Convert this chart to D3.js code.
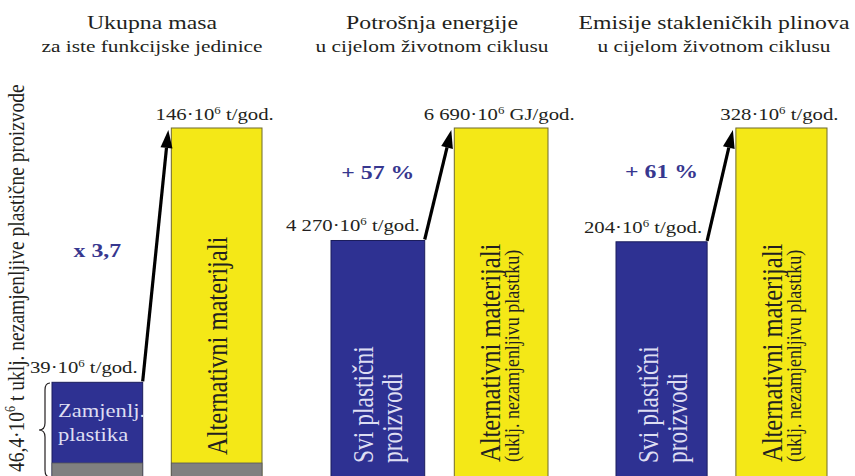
<!DOCTYPE html>
<html>
<head>
<meta charset="utf-8">
<script src="https://cdn.jsdelivr.net/npm/d3@7"></script>
<style>
  html, body { margin: 0; padding: 0; background: #fff; }
  svg { display: block; }
</style>
</head>
<body>
<svg id="chart" width="855" height="476"></svg>
<script>
// ---- data ----
const panelTitles = ["Ukupna masa", "Potrošnja energije", "Emisije stakleničkih plinova"];
const panelSubtitles = ["za iste funkcijske jedinice", "u cijelom životnom ciklusu", "u cijelom životnom ciklusu"];
const barCategories = ["plastika", "alternativa"];
const plasticValues = [39, 4270, 204];
const alternativeValues = [146, 6690, 328];
const plasticUnits = ["t/god.", "t/god.", "t/god."];
const alternativeUnits = ["t/god.", "GJ/god.", "t/god."];
const changeLabels = ["x 3,7", "+ 57 %", "+ 61 %"];
const plasticBarLines = [["Zamjenlj.", "plastika"], ["Svi plastični", "proizvodi"], ["Svi plastični", "proizvodi"]];
const alternativeBarLines = [
  ["Alternativni materijali"],
  ["Alternativni materijali", "(uklj. nezamjenljivu plastiku)"],
  ["Alternativni materijali", "(uklj. nezamjenljivu plastiku)"]
];
const totalWithNonReplaceable = 46.4;
const sideLabelTail = " t uklj. nezamjenljive plastične proizvode";

// ---- layout ----
const W = 855, H = 476;
const SX = 1.22;               // horizontal stretch applied to all lettering
const TOP_Y = 128;             // top of the tallest bar in each panel
const FONT = "'Liberation Serif', 'Times New Roman', serif";
const BLUE = "#2e3192", YELLOW = "#f4e817", GRAY = "#808080";
const INK = "#231f20", BLUE_TEXT = "#37378f", BAR_TEXT = "#dedef2";

const panels = [
  { x0: 52,  x1: 262, zeroY: 475, titleX: 152, changeY: 257, grayStrip: true },
  { x0: 331, x1: 548, zeroY: 439, titleX: 432, changeY: 179, grayStrip: false },
  { x0: 616, x1: 827, zeroY: 429, titleX: 714, changeY: 178, grayStrip: false }
];

const locale = d3.formatLocale({ decimal: ",", thousands: " ", grouping: [3], currency: ["", ""] });
const fmt = locale.format(",");

const svg = d3.select("#chart");
svg.append("rect").attr("width", W).attr("height", H).attr("fill", "#fff");

// text placed at (x, y), stretched horizontally, optionally rotated to read bottom-up
function addText(g, x, y, size, opts = {}) {
  return g.append("text")
    .attr("transform", `translate(${x},${y}) scale(${SX},1)` + (opts.rotate ? " rotate(-90)" : ""))
    .attr("font-family", FONT)
    .attr("font-size", size)
    .attr("font-weight", opts.bold ? "bold" : "normal")
    .attr("fill", opts.fill || INK)
    .attr("text-anchor", opts.anchor || "start");
}

// "<value>·10⁶ <unit>" with a raised exponent
function powerLabel(textSel, value, unit, size) {
  const lift = size * 0.36;
  textSel.append("tspan").text(fmt(value) + "·10");
  textSel.append("tspan").attr("dy", -lift).attr("font-size", size * 0.62).text("6");
  textSel.append("tspan").attr("dy", lift).text(" " + unit);
}

panels.forEach((p, i) => {
  const g = svg.append("g");
  const x = d3.scaleBand().domain(barCategories).range([p.x0, p.x1]).paddingInner(0.24);
  const y = d3.scaleLinear().domain([0, alternativeValues[i]]).range([p.zeroY, TOP_Y]);
  const bw = x.bandwidth();
  const vals = [plasticValues[i], alternativeValues[i]];

  // titles
  addText(g, p.titleX, 29, 19.5, { anchor: "middle" }).text(panelTitles[i]);
  addText(g, p.titleX, 52, 17.5, { anchor: "middle" }).text(panelSubtitles[i]);

  // bars, running down to the bottom edge
  g.selectAll("rect.bar").data(barCategories).join("rect")
    .attr("class", "bar")
    .attr("x", d => x(d))
    .attr("y", (d, j) => y(vals[j]))
    .attr("width", bw)
    .attr("height", (d, j) => H + 2 - y(vals[j]))
    .attr("fill", (d, j) => j === 0 ? BLUE : YELLOW)
    .attr("stroke", (d, j) => j === 0 ? "#1b1d5c" : "#6f6a2e")
    .attr("stroke-width", 1);

  // non-replaceable plastic strip at the foot of the mass panel
  if (p.grayStrip) {
    g.selectAll("rect.strip").data(barCategories).join("rect")
      .attr("class", "strip")
      .attr("x", d => x(d))
      .attr("y", H - 13)
      .attr("width", bw)
      .attr("height", 15)
      .attr("fill", GRAY)
      .attr("stroke", "#555")
      .attr("stroke-width", 0.8);
  }

  const xb = x("plastika"), xa = x("alternativa");

  // value labels
  powerLabel(addText(g, xb + bw - 5, y(plasticValues[i]) - 9, 17, { anchor: "end" }),
    plasticValues[i], plasticUnits[i], 17);
  powerLabel(addText(g, xa + bw / 2 - 2, y(alternativeValues[i]) - 8, 17, { anchor: "middle" }),
    alternativeValues[i], alternativeUnits[i], 17);

  // arrow from the plastic bar to the alternative bar
  const sx = xb + bw, sy = y(plasticValues[i]) - 1;
  const tx = xa - 3, ty = y(alternativeValues[i]) + 2;
  const ang = Math.atan2(ty - sy, tx - sx);
  const headLen = 18, headHalf = 6;
  const bx = tx - headLen * Math.cos(ang), by = ty - headLen * Math.sin(ang);
  g.append("line")
    .attr("x1", sx).attr("y1", sy).attr("x2", bx).attr("y2", by)
    .attr("stroke", "#000").attr("stroke-width", 3.2);
  const nx = -Math.sin(ang), ny = Math.cos(ang);
  g.append("path")
    .attr("d", `M${tx},${ty} L${bx + nx * headHalf},${by + ny * headHalf} L${bx - nx * headHalf},${by - ny * headHalf} Z`)
    .attr("fill", "#000");

  // change label
  addText(g, xb + bw / 2, p.changeY, 19.5, { anchor: "middle", bold: true, fill: BLUE_TEXT })
    .text(changeLabels[i]);

  // lettering inside the bars
  if (i === 0) {
    plasticBarLines[i].forEach((line, k) => {
      addText(g, xb + 6, 417 + k * 24, 18.5, { fill: BAR_TEXT }).text(line);
    });
    addText(g, xa + 56, H - 21, 24.5, { rotate: true }).text(alternativeBarLines[i][0]);
  } else {
    plasticBarLines[i].forEach((line, k) => {
      addText(g, xb + 42 + k * 29, H - 13, 23.5, { rotate: true, fill: BAR_TEXT }).text(line);
    });
    addText(g, xa + 46, H - 14, 24.5, { rotate: true }).text(alternativeBarLines[i][0]);
    addText(g, xa + 65, H - 14, 18, { rotate: true }).text(alternativeBarLines[i][1]);
  }
});

// side note with the brace spanning the mass panel's plastic bar
const braceTop = 383, braceBot = H + 1, braceMid = (braceTop + braceBot) / 2, bxv = 45;
svg.append("path")
  .attr("d", `M${bxv + 5},${braceTop} Q${bxv},${braceTop} ${bxv},${braceTop + 7} L${bxv},${braceMid - 7} Q${bxv},${braceMid} ${bxv - 6},${braceMid} Q${bxv},${braceMid} ${bxv},${braceMid + 7} L${bxv},${braceBot - 7} Q${bxv},${braceBot} ${bxv + 5},${braceBot}`)
  .attr("fill", "none").attr("stroke", INK).attr("stroke-width", 1.2);

const side = addText(svg, 24, 472, 19.5, { rotate: true });
side.append("tspan").text(fmt(totalWithNonReplaceable) + "·10");
side.append("tspan").attr("dy", -7).attr("font-size", 12).text("6");
side.append("tspan").attr("dy", 7).text(sideLabelTail);
</script>
</body>
</html>
